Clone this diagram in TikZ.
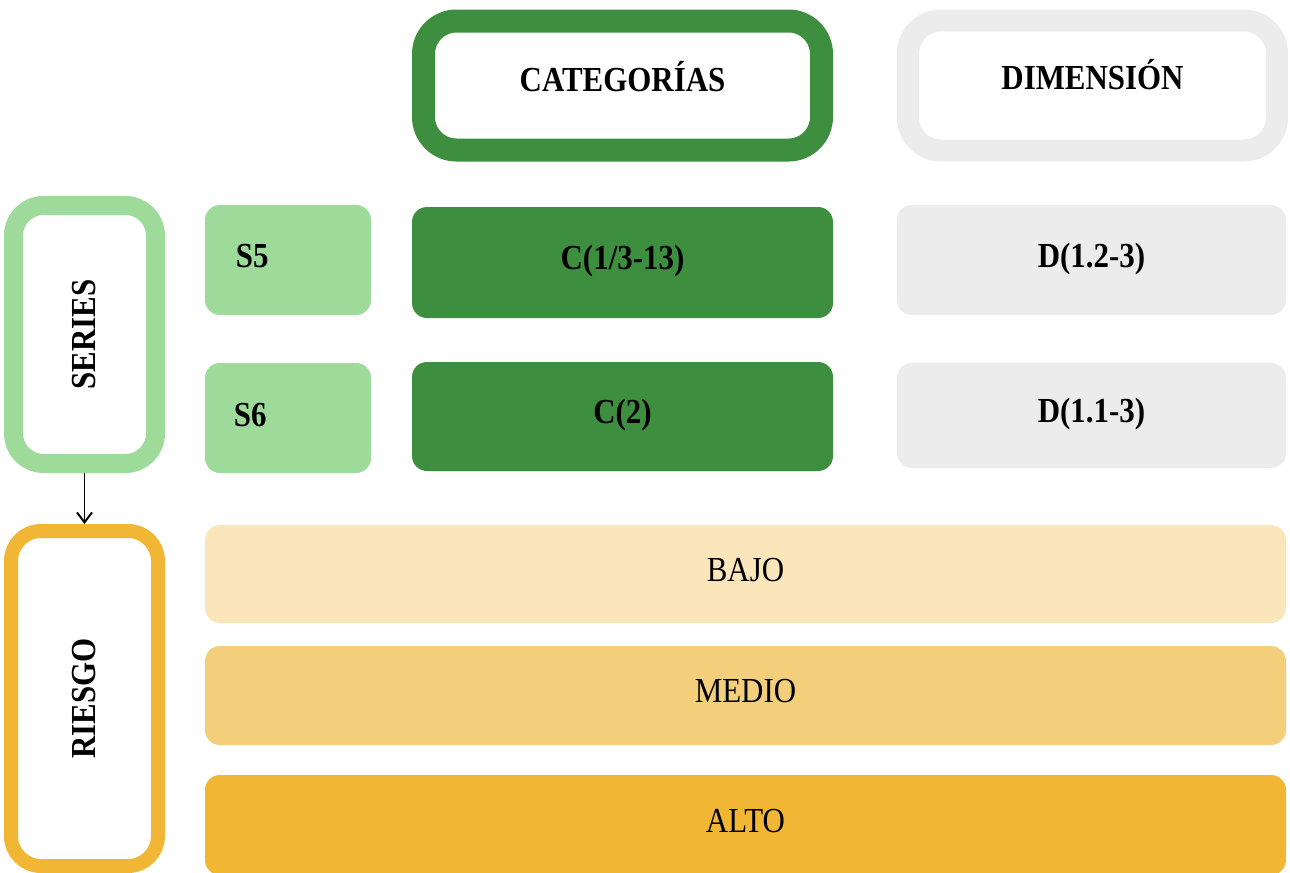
\documentclass[tikz,border=0pt]{standalone}
\usepackage{fontspec}
\setmainfont{Liberation Serif}[FakeStretch=0.88]
\usetikzlibrary{positioning,arrows.meta}

\definecolor{verdeosc}{HTML}{3D8F3F}
\definecolor{verdecla}{HTML}{9EDB9B}
\definecolor{gris}{HTML}{ECECEC}
\definecolor{naranja}{HTML}{F1B633}
\definecolor{ocre}{HTML}{F4CF7B}
\definecolor{crema}{HTML}{FBE6BC}

\tikzset{
  marco/.style={draw, fill=white, rounded corners=0.66cm, inner sep=0pt,
    font=\bfseries\fontsize{20}{24}\selectfont},
  caja/.style={rounded corners=0.3cm, inner sep=0pt,
    text height=0.46cm, text depth=0.18cm, font=\fontsize{20}{24}\selectfont},
  negrita/.style={font=\bfseries\fontsize{20}{24}\selectfont}
}

\begin{document}
\begin{tikzpicture}
    \useasboundingbox (0,0) rectangle (25.8,-17.46);
    % encabezados
    \node[marco, draw=verdeosc, line width=0.46cm, minimum width=7.96cm, minimum height=2.58cm,
      text height=0.46cm, text depth=0.22cm] (CAT) at (12.45,-1.71) {CATEGORÍAS};
    \node[marco, draw=gris, line width=0.44cm, minimum width=7.38cm, minimum height=2.6cm,
      text height=0.46cm, text depth=0.3cm] (DIM) at (21.85,-1.71) {DIMENSIÓN};
    % columna izquierda
    \node[marco, draw=verdecla, line width=0.38cm, rounded corners=0.6cm,
      minimum width=2.84cm, minimum height=5.16cm] (SER) at (1.69,-6.69) {\rotatebox{90}{SERIES}};
    \node[marco, draw=naranja, line width=0.28cm, rounded corners=0.6cm,
      minimum width=2.94cm, minimum height=6.7cm] (RIE) at (1.69,-13.97) {\rotatebox{90}{RIESGO}};
    \draw[-{Straight Barb[length=2mm, width=3mm]}, line width=1.1pt] (SER) -- (RIE);
    % series
    \node[caja, fill=verdecla, minimum width=3.32cm, minimum height=2.2cm] (S5) at (5.76,-5.2) {};
    \node[negrita, anchor=west] (tS5) at ([xshift=0.5cm, yshift=0.08cm]S5.west) {S5};
    \node[caja, fill=verdecla, minimum width=3.32cm, minimum height=2.2cm] (S6) at (5.76,-8.36) {};
    \node[negrita, anchor=west] (tS6) at ([xshift=0.46cm, yshift=0.06cm]S6.west) {S6};
    % categorias
    \node[caja, negrita, fill=verdeosc, minimum width=8.42cm, minimum height=2.22cm] (C1) at (12.45,-5.25) {C(1/3-13)};
    \node[caja, negrita, fill=verdeosc, minimum width=8.42cm, minimum height=2.18cm] (C2) at (12.45,-8.33) {C(2)};
    % dimensiones
    \node[caja, negrita, fill=gris, minimum width=7.78cm, minimum height=2.2cm] (D1) at (21.83,-5.2) {D(1.2-3)};
    \node[caja, negrita, fill=gris, minimum width=7.78cm, minimum height=2.1cm] (D2) at (21.83,-8.31) {D(1.1-3)};
    % niveles de riesgo
    \node[caja, fill=crema, minimum width=21.62cm, minimum height=1.96cm] (BAJ) at (14.91,-11.48) {BAJO};
    \node[caja, fill=ocre, minimum width=21.62cm, minimum height=1.98cm] (MED) at (14.91,-13.91) {MEDIO};
    \node[caja, fill=naranja, minimum width=21.62cm, minimum height=2.0cm] (ALT) at (14.91,-16.5) {ALTO};
\end{tikzpicture}
\end{document}
